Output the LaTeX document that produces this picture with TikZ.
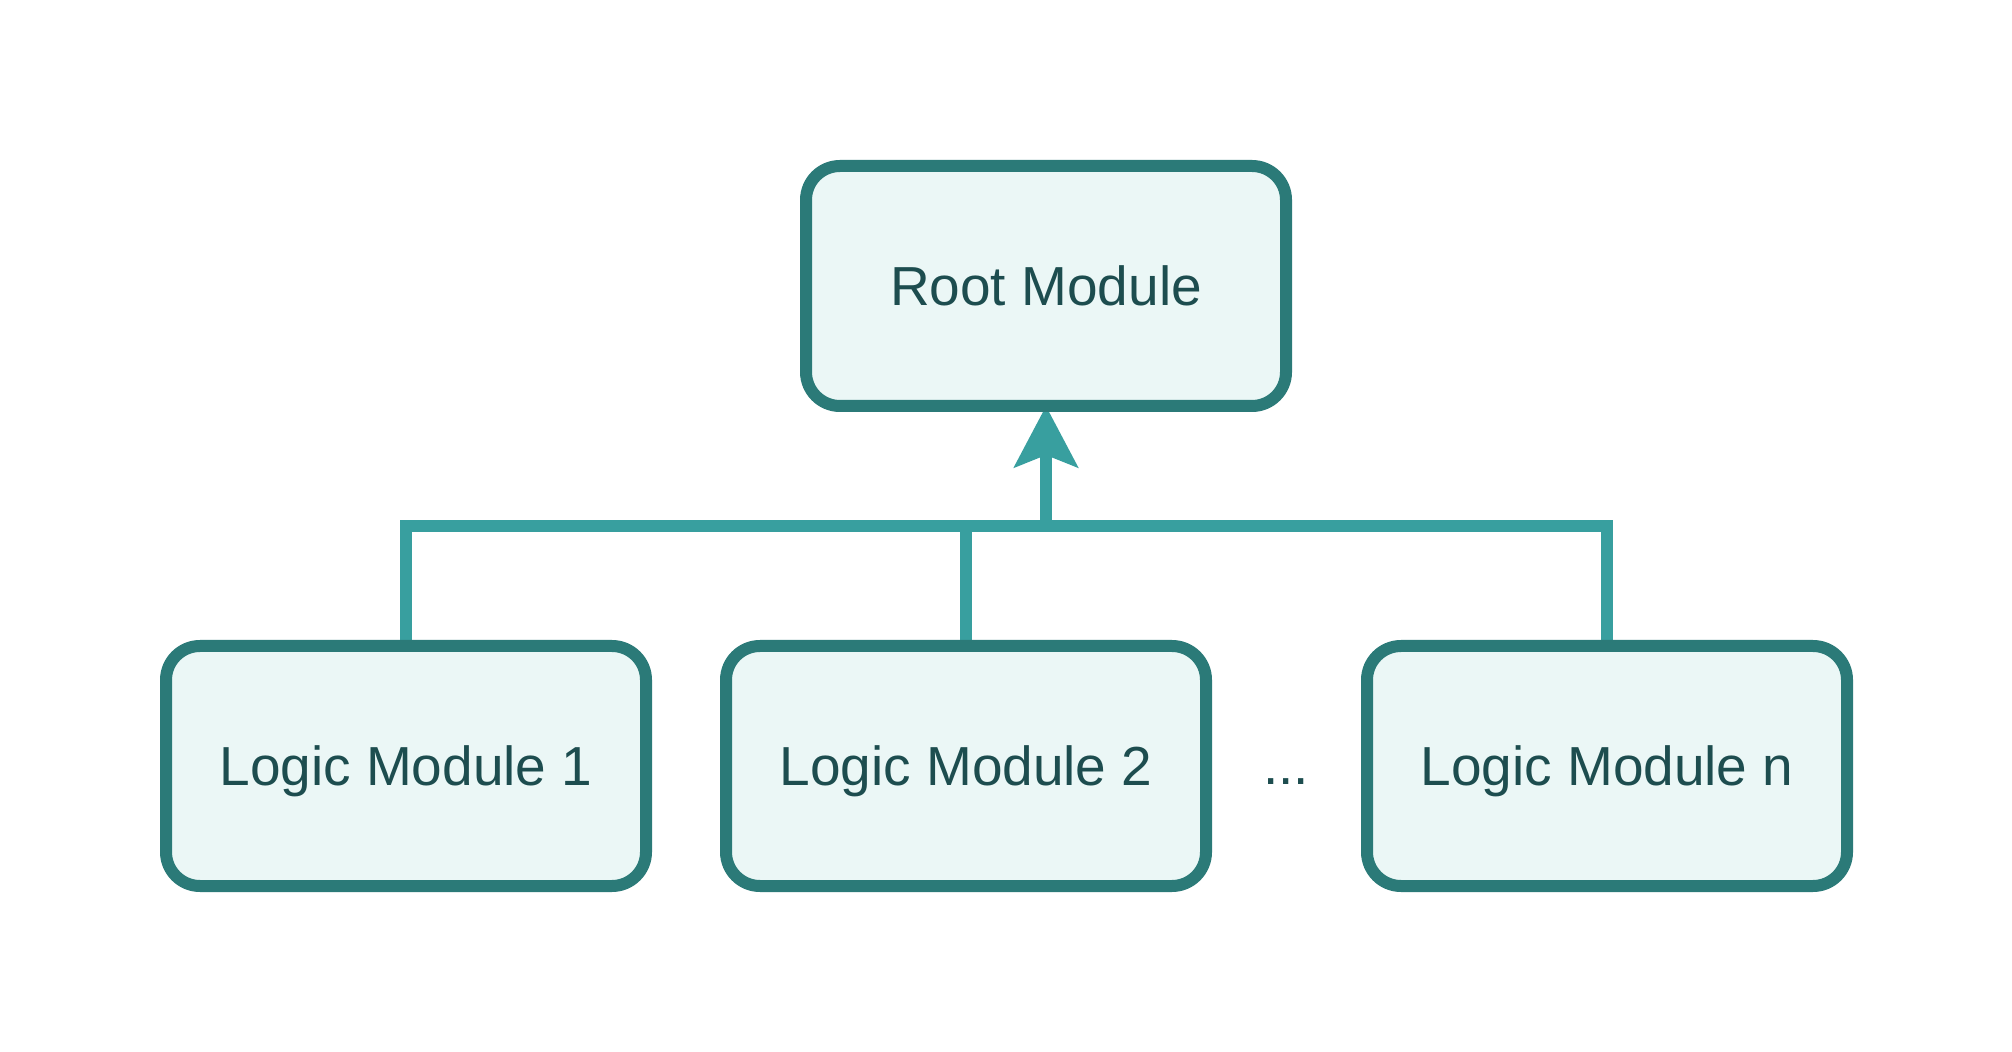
\documentclass[tikz,border=0pt]{standalone}
\usepackage{fontspec}
\setmainfont{Liberation Sans}
\usetikzlibrary{arrows.meta,backgrounds}

\definecolor{boxline}{HTML}{2B7A78}
\definecolor{boxfill}{HTML}{EBF7F6}
\definecolor{boxtext}{HTML}{1D4D4F}
\definecolor{linkline}{HTML}{389F9F}

\tikzset{
	module/.style={draw=boxline, fill=boxfill, text=boxtext, line width=6pt,
		rounded corners=17pt, minimum width=240pt, minimum height=120pt,
		inner sep=0pt, outer sep=0pt, text height=19.7pt, text depth=0pt,
		font=\fontsize{27.5}{30}\selectfont},
	link/.style={draw=linkline, line width=6pt},
}

\begin{document}
\begin{tikzpicture}[x=0.5pt, y=-0.5pt]
	\useasboundingbox (0,0) rectangle (2012,1052);
	% modules
	\node[module] (root) at (1046,286) {Root Module};
	\node[module] (lm1) at (406,766) {Logic Module 1};
	\node[module] (lm2) at (966,766) {Logic Module 2};
	\node[module] (lmn) at (1607,766) {Logic Module n};
	\node[text=boxtext, font=\fontsize{27.5}{30}\selectfont, anchor=base, inner sep=0pt] (dots) at (1286,784) {...};
	\coordinate (bus) at (0,526);
	% links
	\begin{scope}[on background layer]
	\draw[link] (lm1.north) |- (lmn.north |- bus) -- (lmn.north);
	\draw[link] (lm2.north) -- (lm2.north |- bus);
	\draw[link, -{Stealth[length=30.5pt, width=31.5pt, inset=6pt]}] (root.south |- bus) -- (root.south);
	\end{scope}
\end{tikzpicture}
\end{document}
